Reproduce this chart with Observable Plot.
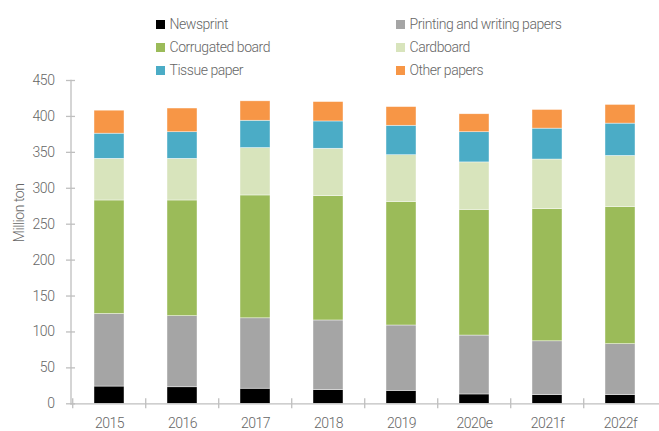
<!DOCTYPE html>
<html>
<head>
<meta charset="utf-8">
<script src="https://cdn.jsdelivr.net/npm/d3@7"></script>
<script src="https://cdn.jsdelivr.net/npm/@observablehq/plot@0.6"></script>
<style>
  html, body { margin: 0; padding: 0; background: #fff; }
  #wrap { position: relative; width: 659px; height: 431px; font-family: Roboto, "DejaVu Sans Condensed", sans-serif; }
  .legend { position: absolute; top: 0; left: 0; width: 659px; height: 80px; pointer-events: none; }
  .item { position: absolute; display: flex; align-items: center; font-size: 14px; font-weight: 300; letter-spacing: -0.45px; color: #666; white-space: nowrap; }
  .sw { width: 9px; height: 9px; margin-right: 4.5px; }
  svg text { font-weight: 300; letter-spacing: -0.45px; }
</style>
</head>
<body>
<div id="wrap"></div>
<script>
const years = ["2015", "2016", "2017", "2018", "2019", "2020e", "2021f", "2022f"];
const seriesNames = ["Newsprint", "Printing and writing papers", "Corrugated board", "Cardboard", "Tissue paper", "Other papers"];
const seriesColors = ["#000000", "#a5a5a5", "#9bbb59", "#d8e4bc", "#4bacc6", "#f79646"];
const newsprint = [24, 23, 21, 19, 18, 13, 12, 12];
const printing = [101, 99, 98, 97, 91, 82, 75, 71];
const corrugated = [158, 161, 171, 173, 172, 175, 184, 191];
const cardboard = [58, 58, 66, 66, 65, 66, 69, 71];
const tissue = [35, 37, 38, 38, 41, 42, 43, 45];
const other = [32, 33, 27, 27, 26, 25, 26, 26];
const yTicks = [0, 50, 100, 150, 200, 250, 300, 350, 400, 450];
const yLabel = "Million ton";

const seriesValues = [newsprint, printing, corrugated, cardboard, tissue, other];
const data = [];
seriesNames.forEach((name, i) => {
  years.forEach((year, j) => data.push({year, type: name, value: seriesValues[i][j]}));
});

const W = 659, H = 431, mL = 70.5, mR = 0;
const step = (W - mL - mR) / years.length;
const axisColor = "#bfbfbf";
const textColor = "#666";

const chart = Plot.plot({
  width: W,
  height: H,
  marginTop: 80,
  marginBottom: 27.7,
  marginLeft: mL,
  marginRight: mR,
  style: {fontFamily: 'Roboto, "DejaVu Sans Condensed", sans-serif', fontSize: "14px", color: textColor, background: "#fff", overflow: "visible"},
  x: {domain: years, paddingInner: 0.59, paddingOuter: 0.295, label: null},
  y: {domain: [0, 450], label: null},
  color: {domain: seriesNames, range: seriesColors},
  marks: [
    Plot.barY(data, Plot.stackY({order: seriesNames}, {x: "year", y: "value", z: "type", fill: "type", stroke: "white", strokeWidth: 0.6, strokeOpacity: 0.7})),
    Plot.frame({anchor: "left", stroke: axisColor, strokeWidth: 1.3}),
    Plot.frame({anchor: "bottom", stroke: axisColor, strokeWidth: 1.3}),
    Plot.axisY({ticks: yTicks, tickSize: 9, dx: 4.5, tickPadding: 12, stroke: axisColor, strokeWidth: 1.3, fill: textColor, label: null, fontSize: 14}),
    Plot.axisX({tickSize: 10, dy: -5, dx: -step / 2, text: null, stroke: axisColor, strokeWidth: 1.3, label: null}),
    Plot.axisX({tickSize: 0, tickPadding: 14.5, fill: textColor, label: null, fontSize: 14}),
    Plot.text([yLabel], {frameAnchor: "left", dx: -51, rotate: -90, text: d => d, fill: textColor, fontSize: 14})
  ]
});

const wrap = document.getElementById("wrap");
wrap.appendChild(chart);

const legend = document.createElement("div");
legend.className = "legend";
const colX = [156, 396];
const rowY = [24, 47, 70];
seriesNames.forEach((name, i) => {
  const item = document.createElement("div");
  item.className = "item";
  item.style.left = colX[i % 2] + "px";
  item.style.top = (rowY[Math.floor(i / 2)] - 10) + "px";
  item.style.height = "20px";
  const sw = document.createElement("span");
  sw.className = "sw";
  sw.style.background = seriesColors[i];
  const t = document.createElement("span");
  t.textContent = name;
  item.appendChild(sw);
  item.appendChild(t);
  legend.appendChild(item);
});
wrap.appendChild(legend);
</script>
</body>
</html>
